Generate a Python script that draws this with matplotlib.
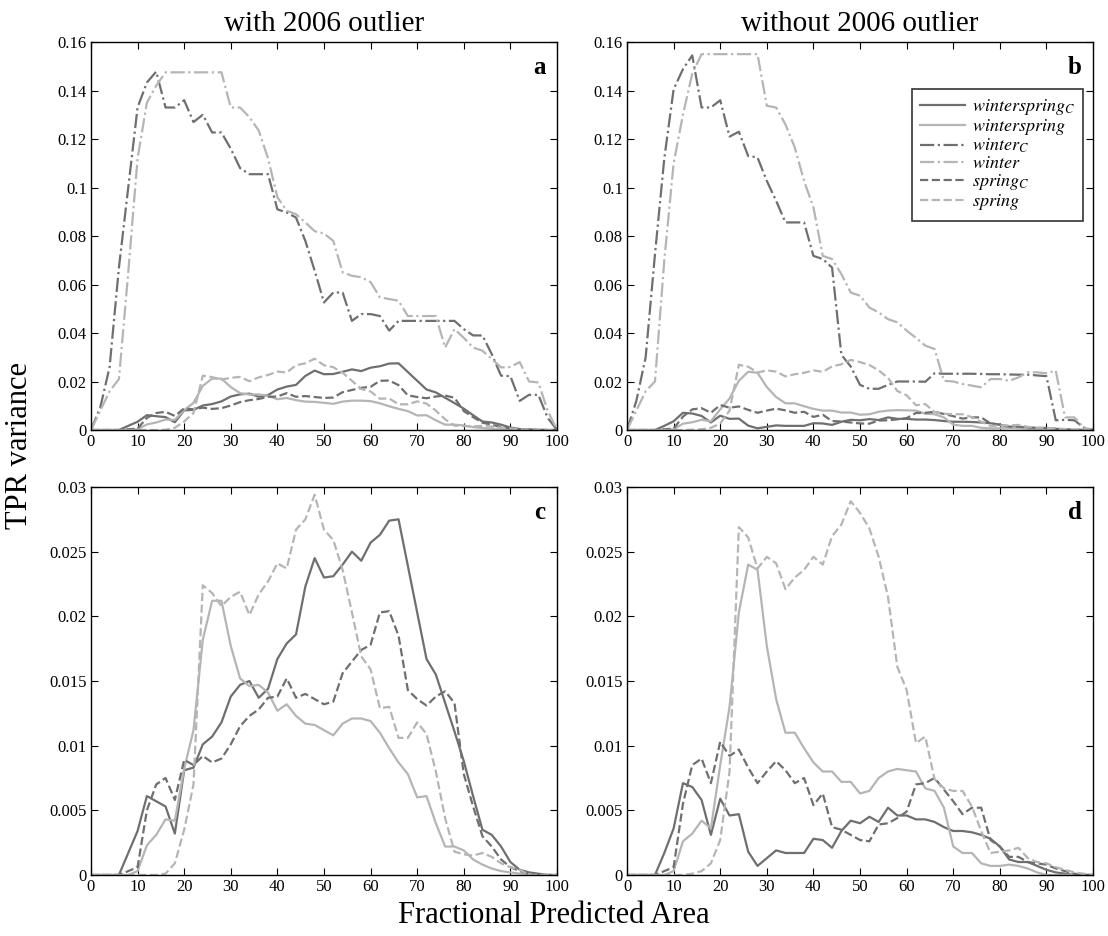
"""
TPR variance vs fractional predicted area, with / without the 2006 outlier.
  top row    : all six forecast sets (0-0.16)
  bottom row : close-up of winterspring / spring sets (0-0.03)
Output -> out.png
"""
import numpy as np
import matplotlib.pyplot as plt

plt.rcParams["font.family"] = ["Liberation Serif", "DejaVu Serif"]
plt.rcParams["mathtext.fontset"] = "stix"

area = np.arange(0, 101, 2)  # fractional predicted area (%)

# ---------- with 2006 outlier ----------
wsC_with = [0, 0, 0, 0, 0.0017, 0.0034, 0.0061, 0.0057, 0.0053, 0.0032, 0.0081, 0.0083, 0.0101, 0.0107,
            0.0118, 0.0138, 0.0147, 0.0150, 0.0137, 0.0144, 0.0167, 0.0179, 0.0186, 0.0223, 0.0245, 0.0230,
            0.0231, 0.0240, 0.0250, 0.0243, 0.0257, 0.0263, 0.0274, 0.0275, 0.0239, 0.0203, 0.0167, 0.0155,
            0.0133, 0.0111, 0.0088, 0.0061, 0.0035, 0.0031, 0.0022, 0.0010, 0.0004, 0.0002, 0.0001, 0, 0]
ws_with = [0, 0, 0, 0, 0, 0.0003, 0.0023, 0.0031, 0.0043, 0.0042, 0.0082, 0.0112, 0.0182, 0.0212, 0.0212,
           0.0177, 0.0152, 0.0146, 0.0147, 0.0141, 0.0127, 0.0132, 0.0123, 0.0117, 0.0116, 0.0112, 0.0108,
           0.0117, 0.0121, 0.0121, 0.0119, 0.0110, 0.0098, 0.0087, 0.0078, 0.0060, 0.0061, 0.0040, 0.0022,
           0.0022, 0.0019, 0.0012, 0.0008, 0.0005, 0.0003, 0.0002, 0.0001, 0.00005, 0, 0, 0]
wC_with = [0, 0.0093, 0.026, 0.067, 0.100, 0.133, 0.1433, 0.1478, 0.133, 0.133, 0.136, 0.127, 0.130, 0.1227,
           0.1227, 0.116, 0.108, 0.1055, 0.1055, 0.1055, 0.091, 0.0897, 0.0876, 0.078, 0.0657, 0.0526, 0.0567,
           0.0567, 0.045, 0.0478, 0.0478, 0.047, 0.041, 0.045, 0.045, 0.045, 0.045, 0.045, 0.045, 0.045,
           0.0416, 0.039, 0.039, 0.0313, 0.0224, 0.0222, 0.012, 0.0145, 0.0145, 0.005, 0]
w_with = [0, 0.008, 0.016, 0.021, 0.065, 0.112, 0.135, 0.142, 0.1475, 0.1475, 0.1475, 0.1475, 0.1475, 0.1475,
          0.1475, 0.133, 0.133, 0.129, 0.1235, 0.112, 0.096, 0.0904, 0.089, 0.0856, 0.082, 0.081, 0.078,
          0.065, 0.0636, 0.063, 0.061, 0.0547, 0.054, 0.0533, 0.047, 0.047, 0.047, 0.047, 0.034, 0.0416,
          0.038, 0.034, 0.0327, 0.0293, 0.0258, 0.026, 0.028, 0.020, 0.0196, 0.008, 0]
spC_with = [0, 0, 0, 0, 0.0003, 0.0006, 0.0050, 0.0070, 0.0075, 0.0058, 0.0089, 0.0085, 0.0092, 0.0087,
            0.0090, 0.0101, 0.0115, 0.0123, 0.0128, 0.0137, 0.0138, 0.0152, 0.0137, 0.0140, 0.0136, 0.0132,
            0.0134, 0.0156, 0.0165, 0.0174, 0.0178, 0.0203, 0.0204, 0.0185, 0.0143, 0.0136, 0.0131, 0.0138,
            0.0142, 0.0133, 0.0078, 0.0053, 0.0030, 0.0022, 0.0012, 0.0006, 0.0003, 0.0001, 0, 0, 0]
sp_with = [0, 0, 0, 0, 0, 0, 0, 0, 0.0001, 0.0009, 0.0035, 0.0070, 0.0224, 0.0218, 0.0208, 0.0215, 0.0219,
           0.0201, 0.0217, 0.0227, 0.0241, 0.0237, 0.0267, 0.0275, 0.0294, 0.0267, 0.0259, 0.0236, 0.0203,
           0.0169, 0.0159, 0.0129, 0.0130, 0.0106, 0.0106, 0.0118, 0.0109, 0.0080, 0.0044, 0.0018, 0.0016,
           0.0015, 0.0017, 0.0014, 0.0009, 0.0006, 0.0004, 0, 0, 0, 0]

# ---------- without 2006 outlier ----------
wsC_wo = [0, 0, 0, 0, 0.0017, 0.0036, 0.0071, 0.0068, 0.0058, 0.0031, 0.0059, 0.0046, 0.0047, 0.0018, 0.0007,
          0.0013, 0.0019, 0.0017, 0.0017, 0.0017, 0.0028, 0.0027, 0.0021, 0.0034, 0.0042, 0.0040, 0.0045,
          0.0041, 0.0052, 0.0046, 0.0046, 0.0043, 0.0043, 0.0041, 0.0037, 0.0034, 0.0034, 0.0033, 0.0031,
          0.0028, 0.0022, 0.0012, 0.0010, 0.0010, 0.0007, 0.0004, 0.0002, 0.0001, 0, 0, 0]
ws_wo = [0, 0, 0, 0, 0, 0.0003, 0.0026, 0.0032, 0.0042, 0.0036, 0.0085, 0.0130, 0.0203, 0.0240, 0.0236,
         0.0177, 0.0136, 0.0110, 0.0110, 0.0098, 0.0087, 0.0080, 0.0080, 0.0072, 0.0072, 0.0063, 0.0065,
         0.0075, 0.0080, 0.0082, 0.0081, 0.0080, 0.0067, 0.0065, 0.0052, 0.0022, 0.0017, 0.0017, 0.0009,
         0.0007, 0.0007, 0.0008, 0.0007, 0.0005, 0.0002, 0, 0, 0, 0, 0, 0]
wC_wo = [0, 0.012, 0.030, 0.0725, 0.112, 0.1405, 0.1488, 0.1545, 0.133, 0.133, 0.136, 0.121, 0.123, 0.113,
         0.1124, 0.1027, 0.0945, 0.0856, 0.0856, 0.0856, 0.0718, 0.0705, 0.067, 0.031, 0.0262, 0.0186, 0.017,
         0.017, 0.0186, 0.020, 0.020, 0.020, 0.0199, 0.0234, 0.0232, 0.0232, 0.0232, 0.0232, 0.0231, 0.0230,
         0.0230, 0.0229, 0.0228, 0.0228, 0.0225, 0.0222, 0.0040, 0.0042, 0.0040, 0.001, 0]
w_wo = [0, 0.008, 0.016, 0.020, 0.070, 0.110, 0.130, 0.147, 0.155, 0.155, 0.155, 0.155, 0.155, 0.155, 0.155,
        0.1337, 0.133, 0.126, 0.1165, 0.1027, 0.0918, 0.0718, 0.0705, 0.0643, 0.0567, 0.0554, 0.0505, 0.0485,
        0.0457, 0.0444, 0.041, 0.038, 0.0348, 0.0334, 0.0203, 0.020, 0.019, 0.0183, 0.0176, 0.021, 0.021,
        0.0203, 0.0217, 0.0238, 0.0238, 0.0234, 0.0245, 0.0052, 0.0052, 0.001, 0]
spC_wo = [0, 0, 0, 0, 0.0003, 0.0006, 0.0055, 0.0085, 0.0090, 0.0071, 0.0103, 0.0092, 0.0097, 0.0083, 0.0071,
          0.0080, 0.0088, 0.0081, 0.0071, 0.0075, 0.0054, 0.0063, 0.0037, 0.0035, 0.0031, 0.0027, 0.0026,
          0.0039, 0.0040, 0.0044, 0.0049, 0.0070, 0.0071, 0.0075, 0.0066, 0.0057, 0.0047, 0.0052, 0.0052,
          0.0027, 0.0022, 0.0014, 0.0014, 0.0010, 0.0009, 0.0008, 0.0005, 0.0003, 0.0001, 0, 0]
sp_wo = [0, 0, 0, 0, 0, 0, 0, 0.0001, 0.0003, 0.0009, 0.0027, 0.0080, 0.0269, 0.0261, 0.0237, 0.0246, 0.0241,
         0.0221, 0.0230, 0.0236, 0.0246, 0.0240, 0.0262, 0.0271, 0.0289, 0.0280, 0.0268, 0.0246, 0.0215,
         0.0161, 0.0143, 0.0102, 0.0107, 0.0074, 0.0067, 0.0065, 0.0065, 0.0053, 0.0034, 0.0017, 0.0018,
         0.0019, 0.0021, 0.0013, 0.0010, 0.0009, 0.0006, 0.0004, 0.0002, 0.0001, 0]

labels = [r"$winterspring_C$", r"$winterspring$", r"$winter_C$", r"$winter$", r"$spring_C$", r"$spring$"]
DARK, LIGHT = "#6f6f6f", "#b5b5b5"
styles = [(DARK, "-"), (LIGHT, "-"), (DARK, "-."), (LIGHT, "-."), (DARK, "--"), (LIGHT, "--")]
sets = {"with": [wsC_with, ws_with, wC_with, w_with, spC_with, sp_with],
        "wo": [wsC_wo, ws_wo, wC_wo, w_wo, spC_wo, sp_wo]}

fig = plt.figure(figsize=(11.08, 9.36), dpi=100)
L = [0.0821, 0.5659]; B = [0.5406, 0.0652]; W, H = 0.4206, 0.4145
panels = [("with", 0, 0, "a", 0.16), ("wo", 1, 0, "b", 0.16), ("with", 0, 1, "c", 0.03), ("wo", 1, 1, "d", 0.03)]
axes = {}
for key, col, row, letter, ymax in panels:
    ax = fig.add_axes([L[col], B[row], W, H]); axes[letter] = ax
    for i, (series, (c, ls)) in enumerate(zip(sets[key], styles)):
        if row == 1 and i in (2, 3):  # winter sets are off-scale in the close-up
            continue
        ax.plot(area, series, color=c, ls=ls, lw=1.6, label=labels[i])
    ax.set_xlim(0, 100); ax.set_ylim(0, ymax)
    ax.set_xticks(np.arange(0, 101, 10))
    yt = np.arange(0, 0.16001, 0.02) if ymax > 0.1 else np.arange(0, 0.03001, 0.005)
    ax.set_yticks(yt); ax.set_yticklabels([f"{v:g}" for v in np.round(yt, 4)])
    ax.tick_params(direction="in", top=True, right=True, length=5, width=0.8, labelsize=12, pad=3)
    for s in ax.spines.values(): s.set_linewidth(1.0)
    ax.text(0.975, 0.935, letter, transform=ax.transAxes, ha="right", va="center",
            fontsize=18, fontweight="bold")

axes["a"].set_title("with 2006 outlier", fontsize=21, pad=8)
axes["b"].set_title("without 2006 outlier", fontsize=21, pad=8)
leg = axes["b"].legend(loc="upper right", bbox_to_anchor=(0.979, 0.879), fontsize=13, frameon=True,
                       fancybox=False, edgecolor="black", handlelength=2.5, labelspacing=0.0,
                       borderaxespad=0, handletextpad=0.4, borderpad=0.45)
leg.get_frame().set_linewidth(1.2)
fig.text(0.018, 0.524, "TPR variance", rotation=90, ha="center", va="center", fontsize=22)
fig.text(0.5, 0.022, "Fractional Predicted Area", ha="center", va="center", fontsize=22)

fig.savefig("out.png", dpi=100)
